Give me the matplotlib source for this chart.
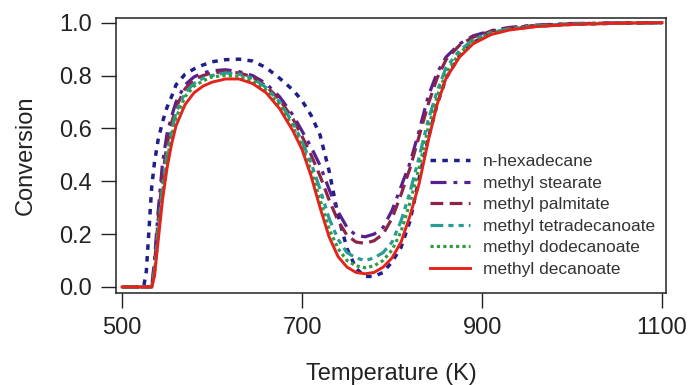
import matplotlib
matplotlib.use("Agg")
import matplotlib.pyplot as plt

plt.rcParams["font.family"] = ["Liberation Sans", "DejaVu Sans"]

# temperature grid (K) shared by every series
temps = [500, 524, 527, 530, 533, 536, 540, 545, 550, 555, 560, 570, 580, 590,
         600, 615, 630, 645, 660, 675, 690, 700, 710, 720, 730, 740, 750, 760,
         770, 780, 790, 800, 810, 820, 830, 840, 850, 860, 875, 890, 910, 930,
         960, 1000, 1050, 1100]

hexadecane = [0, 0, 0.06, 0.22, 0.38, 0.47, 0.555, 0.625, 0.68, 0.72, 0.765, 0.805,
              0.825, 0.84, 0.852, 0.86, 0.862, 0.855, 0.83, 0.79, 0.745, 0.705, 0.65,
              0.575, 0.44, 0.27, 0.145, 0.07, 0.04, 0.04, 0.055, 0.095, 0.15, 0.25,
              0.41, 0.56, 0.69, 0.79, 0.875, 0.925, 0.958, 0.975, 0.987, 0.994, 0.998, 1.0]
stearate = [0, 0, 0, 0, 0, 0.10, 0.28, 0.47, 0.58, 0.645, 0.70, 0.765, 0.795, 0.81,
            0.818, 0.822, 0.815, 0.80, 0.77, 0.72, 0.65, 0.59, 0.53, 0.46, 0.37, 0.285,
            0.225, 0.195, 0.19, 0.20, 0.225, 0.29, 0.38, 0.47, 0.59, 0.72, 0.81, 0.87,
            0.92, 0.95, 0.97, 0.982, 0.991, 0.997, 0.999, 1.0]
palmitate = [0, 0, 0, 0, 0, 0.08, 0.25, 0.42, 0.54, 0.62, 0.68, 0.75, 0.785, 0.80,
             0.81, 0.815, 0.81, 0.795, 0.76, 0.71, 0.635, 0.57, 0.50, 0.42, 0.33, 0.25,
             0.195, 0.17, 0.165, 0.175, 0.20, 0.26, 0.35, 0.45, 0.57, 0.69, 0.79, 0.86,
             0.915, 0.945, 0.968, 0.98, 0.99, 0.996, 0.999, 1.0]
tetradecanoate = [0, 0, 0, 0, 0, 0.06, 0.21, 0.38, 0.50, 0.59, 0.66, 0.735, 0.77, 0.79,
                  0.80, 0.81, 0.805, 0.79, 0.755, 0.70, 0.62, 0.55, 0.47, 0.37, 0.26, 0.18,
                  0.13, 0.11, 0.10, 0.11, 0.13, 0.17, 0.25, 0.36, 0.49, 0.63, 0.74, 0.83,
                  0.895, 0.935, 0.963, 0.977, 0.988, 0.995, 0.998, 1.0]
dodecanoate = [0, 0, 0, 0, 0, 0.05, 0.19, 0.36, 0.48, 0.57, 0.64, 0.72, 0.76, 0.78,
               0.795, 0.80, 0.797, 0.78, 0.745, 0.69, 0.605, 0.535, 0.44, 0.33, 0.22, 0.145,
               0.10, 0.08, 0.073, 0.08, 0.10, 0.14, 0.21, 0.32, 0.45, 0.60, 0.72, 0.81,
               0.885, 0.93, 0.96, 0.975, 0.987, 0.994, 0.998, 1.0]
decanoate = [0, 0, 0, 0, 0, 0.04, 0.17, 0.33, 0.45, 0.54, 0.61, 0.69, 0.735, 0.76,
             0.775, 0.787, 0.787, 0.77, 0.735, 0.675, 0.59, 0.52, 0.42, 0.30, 0.19, 0.115,
             0.075, 0.055, 0.05, 0.055, 0.075, 0.11, 0.17, 0.27, 0.39, 0.55, 0.69, 0.79,
             0.87, 0.92, 0.955, 0.972, 0.985, 0.993, 0.998, 1.0]

names = ["n-hexadecane", "methyl stearate", "methyl palmitate",
         "methyl tetradecanoate", "methyl dodecanoate", "methyl decanoate"]
series = [hexadecane, stearate, palmitate, tetradecanoate, dodecanoate, decanoate]
colors = ["#1f1f8c", "#55208f", "#8c2448", "#2a9a94", "#2f9d3f", "#e6221c"]
styles = [(0, (1.6, 1.8)), (0, (5, 2.2, 1.2, 2.2)), (0, (4, 2)),
          (0, (4, 1.6, 1.6, 1.6, 1.6, 1.6)), (0, (1, 1)), "-"]
widths = [2.5, 2.3, 2.3, 2.3, 2.3, 2.1]

fig = plt.figure(figsize=(6.93, 3.85), dpi=100)
ax = fig.add_axes([0.1674, 0.239, 0.7937, 0.7143])

for y, name, c, ls, lw in zip(series, names, colors, styles, widths):
    ax.plot(temps, y, color=c, linestyle=ls, linewidth=lw, label=name)

ax.set_xlim(493.3, 1104.4)
ax.set_ylim(-0.0227, 1.0178)
ax.set_xticks([500, 700, 900, 1100])
ax.set_yticks([0.0, 0.2, 0.4, 0.6, 0.8, 1.0])
ax.set_yticklabels(["0.0", "0.2", "0.4", "0.6", "0.8", "1.0"])
ax.tick_params(direction="out", length=10.5, width=1, pad=7,
               labelsize=17, colors="#222222")
for sp in ax.spines.values():
    sp.set_linewidth(1.1)
    sp.set_color("#222222")

ax.set_xlabel("Temperature (K)", fontsize=17, color="#222222", labelpad=17)
ax.set_ylabel("Conversion", fontsize=17, color="#222222", labelpad=16)

leg = fig.legend(loc="upper left", bbox_to_anchor=(0.6205, 0.600), frameon=False,
                 fontsize=12.5, handlelength=2.3, handletextpad=0.75,
                 labelspacing=0.37, borderpad=0, borderaxespad=0)
for t in leg.get_texts():
    t.set_color("#333333")

fig.savefig("out.png", dpi=100)
